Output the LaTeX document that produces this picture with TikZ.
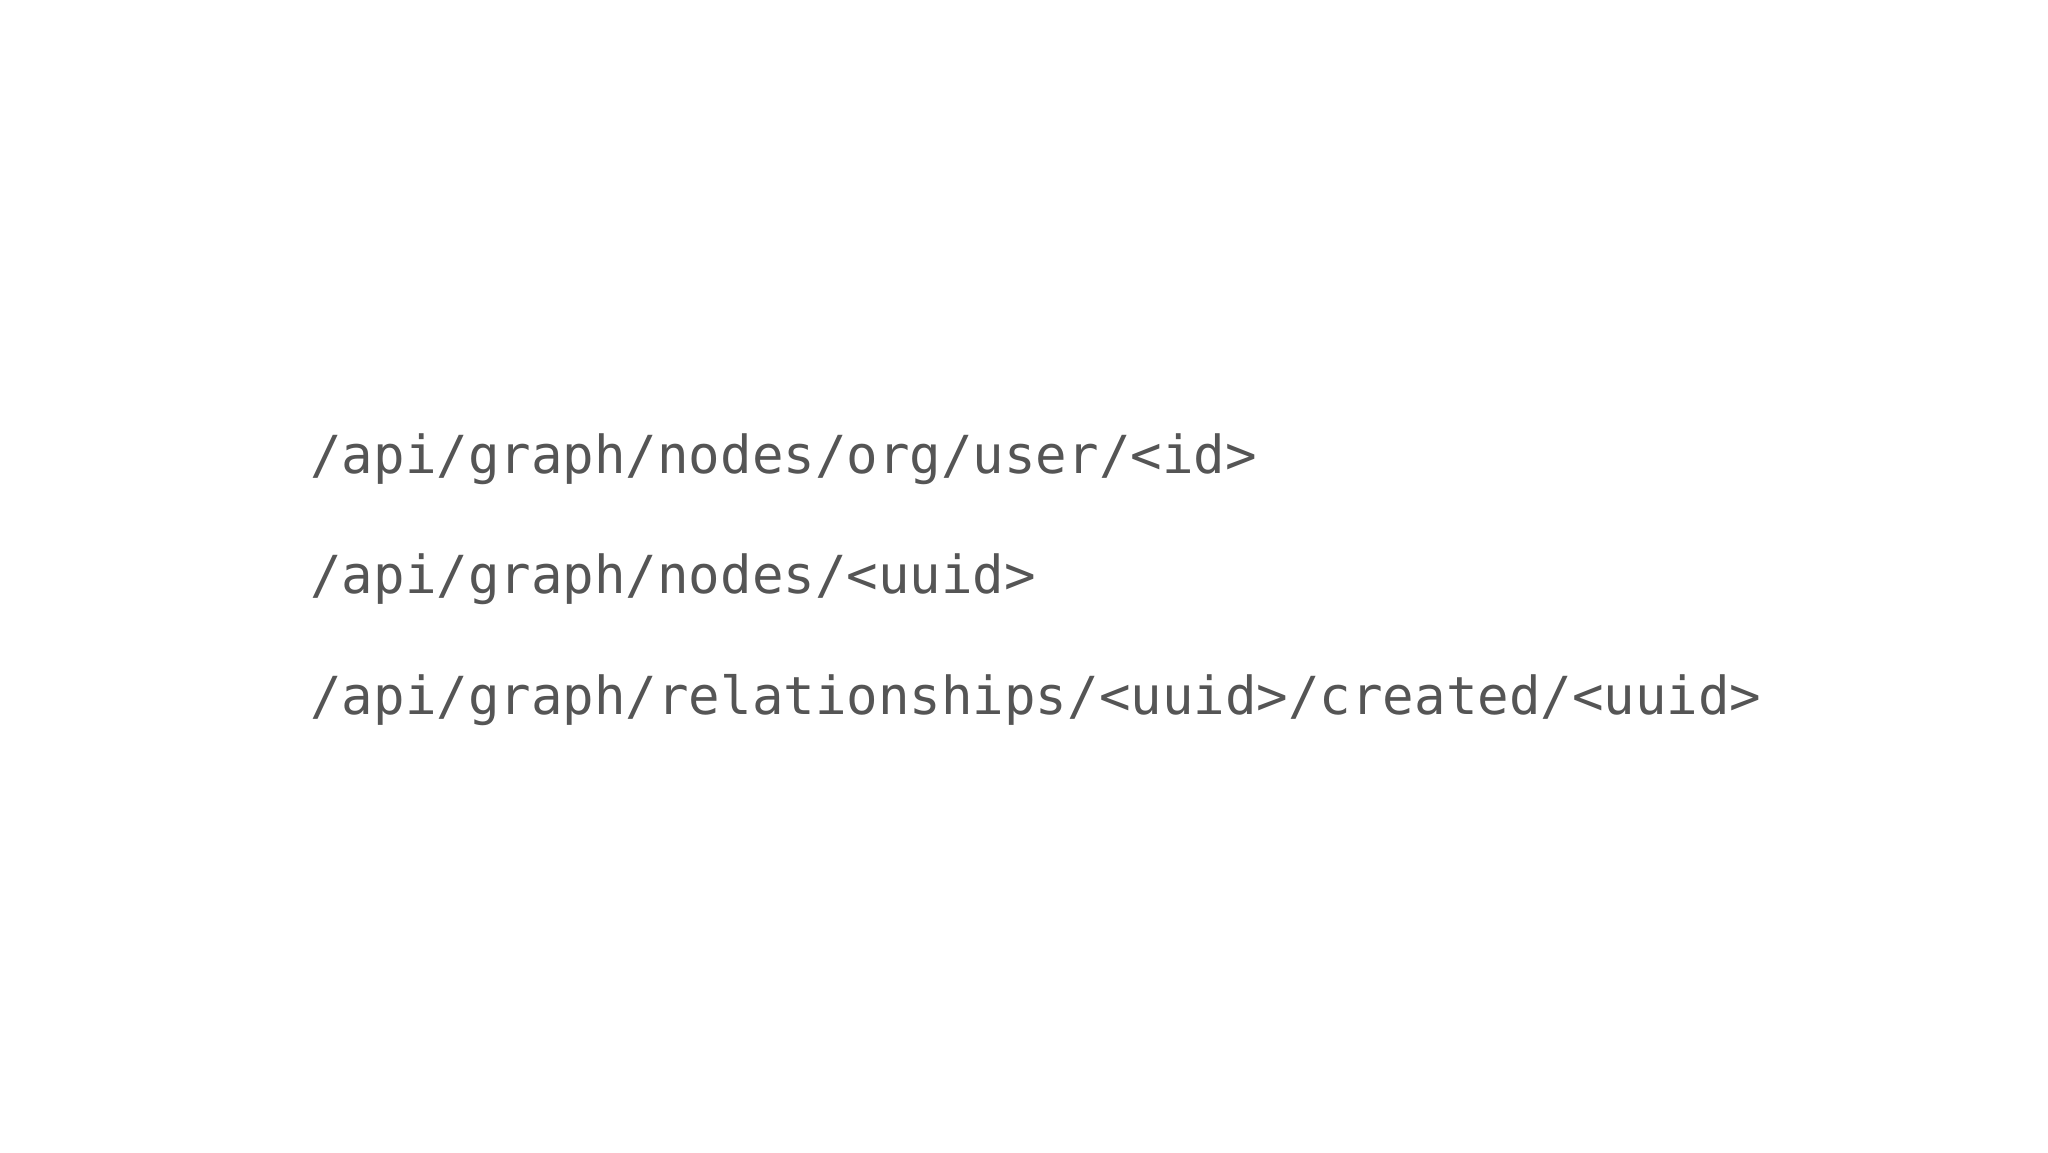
\documentclass[tikz,border=0pt]{standalone}
\usepackage{fontspec}
\setmonofont{DejaVu Sans Mono}
\definecolor{txt}{HTML}{555555}
\begin{document}
\begin{tikzpicture}[x=1pt,y=1pt,
  route/.style={anchor=base west,inner sep=0pt,text=txt,font=\ttfamily\fontsize{26.2}{30}\selectfont}]
\useasboundingbox[fill=white] (0,0) rectangle (1024,576);
\node[route] (a) at (155,576-237) {/api/graph/nodes/org/user/<id>};
\node[route] (b) at (155,576-297) {/api/graph/nodes/<uuid>};
\node[route] (c) at (155,576-357) {/api/graph/relationships/<uuid>/created/<uuid>};
\end{tikzpicture}
\end{document}
